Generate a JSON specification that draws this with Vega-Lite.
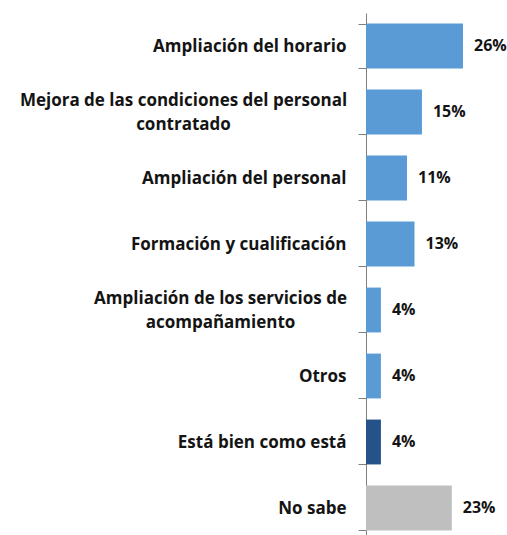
{
  "$schema": "https://vega.github.io/schema/vega-lite/v6.json",
  "autosize": "none",
  "padding": {"top": 13, "left": 366, "right": 0, "bottom": 0},
  "width": 141,
  "height": 528,
  "background": "white",
  "config": {"view": {"stroke": null}, "font": "Open Sans"},
  "data": {
    "values": [
      {"respuesta": "Ampliación del horario", "valor": 0.26},
      {"respuesta": "Mejora de las condiciones del personal|contratado", "valor": 0.15},
      {"respuesta": "Ampliación del personal", "valor": 0.11},
      {"respuesta": "Formación y cualificación", "valor": 0.13},
      {"respuesta": "Ampliación de los servicios de|acompañamiento", "valor": 0.04},
      {"respuesta": "Otros", "valor": 0.04},
      {"respuesta": "Está bien como está", "valor": 0.04},
      {"respuesta": "No sabe", "valor": 0.23}
    ]
  },
  "encoding": {
    "y": {
      "field": "respuesta",
      "type": "nominal",
      "sort": null,
      "scale": {"paddingInner": 0.32, "paddingOuter": 0.16},
      "axis": {
        "title": null,
        "labelExpr": "datum.value ? split(datum.value, '|') : ''",
        "labelFont": "Open Sans",
        "labelFontSize": 17,
        "labelFontWeight": "bold",
        "labelColor": "#141414",
        "labelLineHeight": 24,
        "labelLimit": 400,
        "tickBand": "extent",
        "tickSize": 8,
        "tickWidth": 1,
        "tickColor": "#7f7f7f",
        "domainColor": "#7f7f7f",
        "domainWidth": 1,
        "labelAlign": {"condition": {"test": "datum.value && indexof(datum.value, '|') >= 0", "value": "center"}, "value": "right"},
        "labelOffset": {"condition": {"test": "datum.value && indexof(datum.value, '|') >= 0", "value": -12}, "value": 0},
        "labelPadding": {"condition": [
          {"test": "datum.value && indexof(datum.value, 'Mejora') >= 0", "value": 175},
          {"test": "datum.value && indexof(datum.value, 'servicios') >= 0", "value": 138}
        ], "value": 12}
      }
    },
    "x": {
      "field": "valor",
      "type": "quantitative",
      "scale": {"domain": [0, 0.378]},
      "axis": null
    }
  },
  "layer": [
    {
      "mark": {"type": "bar"},
      "encoding": {
        "color": {
          "field": "respuesta",
          "type": "nominal",
          "legend": null,
          "scale": {
            "domain": ["Ampliación del horario", "Mejora de las condiciones del personal|contratado", "Ampliación del personal", "Formación y cualificación", "Ampliación de los servicios de|acompañamiento", "Otros", "Está bien como está", "No sabe"],
            "range": ["#5B9BD5", "#5B9BD5", "#5B9BD5", "#5B9BD5", "#5B9BD5", "#5B9BD5", "#245289", "#BFBFBF"]
          }
        }
      }
    },
    {
      "mark": {"type": "text", "align": "left", "baseline": "middle", "dx": 11, "fontSize": 16, "fontWeight": "bold", "font": "Open Sans", "color": "#141414"},
      "encoding": {
        "text": {"field": "valor", "type": "quantitative", "format": ".0%"}
      }
    }
  ]
}
